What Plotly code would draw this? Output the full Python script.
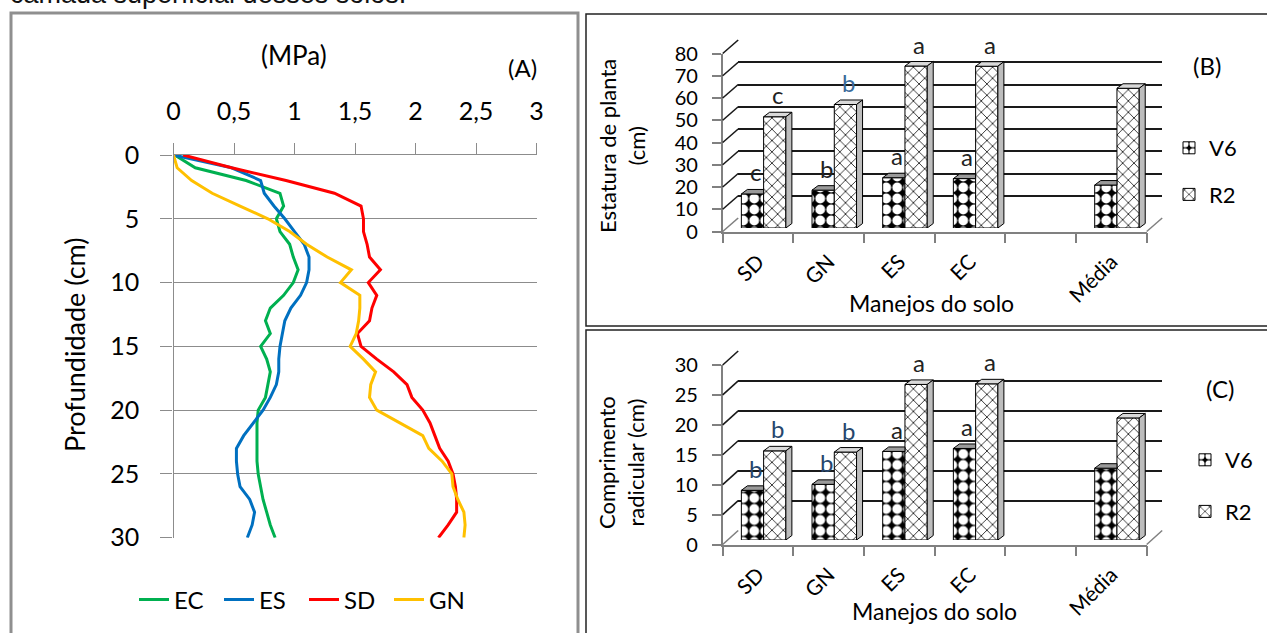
import plotly.graph_objects as go

W, H = 1267, 633

# ---------------- data ----------------
depth_cm = [0, 1, 2, 3, 4, 5, 6, 7, 8, 9, 10, 11, 12, 13, 14, 15,
            16, 17, 18, 19, 20, 21, 22, 23, 24, 25, 26, 27, 28, 29, 30]
resist_ec = [0.01, 0.18, 0.60, 0.88, 0.91, 0.85, 0.88, 0.96, 0.99, 1.03, 0.99,
             0.91, 0.80, 0.76, 0.80, 0.72, 0.77, 0.80, 0.78, 0.76, 0.70,
             0.69, 0.69, 0.69, 0.69, 0.70, 0.72, 0.74, 0.77, 0.80, 0.84]
resist_es = [0.00, 0.48, 0.72, 0.75, 0.83, 0.92, 1.00, 1.08, 1.12, 1.12, 1.10,
             1.05, 0.97, 0.92, 0.90, 0.88, 0.87, 0.87, 0.85, 0.80, 0.74,
             0.66, 0.58, 0.52, 0.52, 0.53, 0.55, 0.63, 0.67, 0.65, 0.61]
resist_sd = [0.08, 0.48, 0.93, 1.33, 1.55, 1.57, 1.57, 1.60, 1.62, 1.71, 1.61,
             1.68, 1.64, 1.62, 1.52, 1.55, 1.68, 1.82, 1.93, 1.97, 2.06,
             2.12, 2.16, 2.20, 2.27, 2.31, 2.33, 2.34, 2.34, 2.27, 2.19]
resist_gn = [0.00, 0.03, 0.15, 0.32, 0.55, 0.78, 0.96, 1.10, 1.27, 1.47, 1.38,
             1.54, 1.54, 1.53, 1.51, 1.46, 1.57, 1.67, 1.63, 1.62, 1.68,
             1.87, 2.06, 2.11, 2.22, 2.30, 2.31, 2.35, 2.40, 2.41, 2.40]
mpa_ticks = [0, 0.5, 1, 1.5, 2, 2.5, 3]
mpa_ticktext = ["0", "0,5", "1", "1,5", "2", "2,5", "3"]

categories = ["SD", "GN", "ES", "EC", "Média"]
height_v6 = [15.3, 17.0, 22.6, 22.2, 19.3]
height_r2 = [50.0, 55.5, 72.8, 72.7, 62.8]
height_let_v6 = ["c", "b", "a", "a", ""]
height_let_r2 = ["c", "b", "a", "a", ""]
root_v6 = [8.3, 9.3, 14.8, 15.3, 12.0]
root_r2 = [14.9, 14.7, 26.0, 26.1, 20.4]
root_let_v6 = ["b", "b", "a", "a", ""]
root_let_r2 = ["b", "b", "a", "a", ""]

# ---------------- helpers ----------------
FONT = "Lato, 'Noto Sans', sans-serif"


def px(x):
    return x / W


def py(y):
    return 1 - y / H


fig = go.Figure()
layout = dict(
    template="none",
    width=W, height=H, autosize=False,
    margin=dict(l=0, r=0, t=0, b=0, pad=0),
    paper_bgcolor="white", plot_bgcolor="rgba(0,0,0,0)",
    font=dict(family=FONT, color="black", size=22),
    barmode="overlay", showlegend=True, hovermode=False,
)
shapes = []
annotations = []


def label(text, x, y, size, angle=0, **kw):
    d = dict(text=text, x=px(x), y=py(y), xref="paper", yref="paper",
             xanchor="center", yanchor="middle", showarrow=False, textangle=angle,
             font=dict(size=size))
    d.update(kw)
    annotations.append(d)


def anchor_trace(xa, ya):
    # invisible trace so that an axis pair without data is still drawn
    fig.add_trace(go.Scatter(x=[None], y=[None], mode="markers", showlegend=False,
                             hoverinfo="skip", xaxis=xa, yaxis=ya))


# ---------------- panel A ----------------
AX0, AX1 = 173.5, 536.5
AY0, AY1 = 155.0, 537.7
GRAY = "#8c8c8c"
series = [("EC", resist_ec, "#00b050"), ("ES", resist_es, "#0070c0"),
          ("SD", resist_sd, "#ff0000"), ("GN", resist_gn, "#ffc000")]
for name, vals, col in series:
    fig.add_trace(go.Scatter(x=vals, y=depth_cm, mode="lines", name=name,
                             line=dict(color=col, width=3),
                             xaxis="x", yaxis="y", legend="legend"))

layout["xaxis"] = dict(domain=[px(AX0), px(AX1)], range=[0, 3], side="top", anchor="y",
                       tickmode="array", tickvals=mpa_ticks, ticktext=mpa_ticktext,
                       ticks="outside", ticklen=11, tickcolor=GRAY, tickwidth=1.3,
                       showline=True, linecolor=GRAY, linewidth=1.3,
                       showgrid=False, zeroline=False, tickfont=dict(size=25),
                       ticklabelstandoff=13, automargin=False)
layout["yaxis"] = dict(domain=[py(AY1), py(AY0)], range=[30, 0], anchor="x",
                       tickmode="linear", tick0=0, dtick=5,
                       ticks="outside", ticklen=12, tickcolor=GRAY, tickwidth=1.3,
                       showline=True, linecolor=GRAY, linewidth=1.3,
                       showgrid=True, gridcolor=GRAY, gridwidth=1.3,
                       zeroline=False, tickfont=dict(size=25), ticklabelstandoff=16,
                       automargin=False)
layout["legend"] = dict(orientation="h", x=px(134), y=py(600), xanchor="left",
                        yanchor="middle", font=dict(size=24),
                        bgcolor="rgba(0,0,0,0)", entrywidth=40, entrywidthmode="pixels")

label("(MPa)", 294, 55, 26)
label("(A)", 522, 67, 24)
label("Profundidade (cm)", 74, 345, 27, angle=-90)
annotations.append(dict(
    text="camada superficial desses solos.", x=px(8), y=py(11), xref="paper",
    yref="paper", xanchor="left", yanchor="bottom", showarrow=False,
    font=dict(size=27, family="'Liberation Sans', sans-serif", color="#111")))

# ---------------- panels B and C ----------------
X0, X1 = 722.7, 1146.7
NSLOT = 6
slots = [0, 1, 2, 3, 5]
BACK_DX = 15.5
PLANE_DX = 4.0
LINE_GRAY = "#808080"


def bar_panel(ids, v6, r2, let6, let2, vmax, dtick, y0, ytop, back_dy, plane_dy,
              legend_name, let_colors):
    nf, nb, npl = ids
    ppu_x = (X1 - X0) / NSLOT
    ppu_y = (y0 - ytop) / vmax
    # back wall (gridlines)
    layout[f"xaxis{nb}"] = dict(
        domain=[px(X0 + BACK_DX), px(X1 + BACK_DX)], range=[0, NSLOT], anchor=f"y{nb}",
        showticklabels=False, ticks="", showline=False, showgrid=False, zeroline=False,
        automargin=False)
    layout[f"yaxis{nb}"] = dict(
        domain=[py(y0 + back_dy), py(ytop + back_dy)], range=[0, vmax], anchor=f"x{nb}",
        tickmode="linear", tick0=0, dtick=dtick, showticklabels=False, ticks="",
        showline=False, showgrid=True, gridcolor="#1a1a1a", gridwidth=1.6, zeroline=False,
        automargin=False)
    anchor_trace(f"x{nb}", f"y{nb}")
    # front axes (labels, ticks, front floor edge, left wall edge)
    layout[f"xaxis{nf}"] = dict(
        domain=[px(X0), px(X1)], range=[0, NSLOT], anchor=f"y{nf}",
        tickmode="array", tickvals=[s + 0.5 for s in slots], ticktext=categories,
        tickangle=-45, ticks="", showline=True, linecolor=LINE_GRAY, linewidth=1.5,
        showgrid=False, zeroline=False, tickfont=dict(size=21), ticklabelstandoff=8,
        automargin=False,
        minor=dict(tickmode="array", tickvals=list(range(NSLOT + 1)), ticks="outside",
                   ticklen=10, tickcolor=LINE_GRAY, tickwidth=1.5, showgrid=False))
    layout[f"yaxis{nf}"] = dict(
        domain=[py(y0), py(ytop)], range=[0, vmax], anchor=f"x{nf}",
        tickmode="linear", tick0=0, dtick=dtick, ticks="outside", ticklen=9,
        tickcolor=LINE_GRAY, tickwidth=1.5, showline=True, linecolor=LINE_GRAY,
        linewidth=1.5, showgrid=False, zeroline=False, tickfont=dict(size=20),
        ticklabelstandoff=10, automargin=False)
    anchor_trace(f"x{nf}", f"y{nf}")
    # bar plane
    layout[f"xaxis{npl}"] = dict(
        domain=[px(X0 + PLANE_DX), px(X1 + PLANE_DX)], range=[0, NSLOT], anchor=f"y{npl}",
        visible=False, automargin=False)
    layout[f"yaxis{npl}"] = dict(
        domain=[py(y0 + plane_dy), py(ytop + plane_dy)], range=[0, vmax], anchor=f"x{npl}",
        visible=False, automargin=False)
    # left wall slanted gridlines + floor right edge
    v = 0
    while v <= vmax + 1e-9:
        yf = y0 - v * ppu_y
        shapes.append(dict(type="line", xref="paper", yref="paper",
                           x0=px(X0), y0=py(yf), x1=px(X0 + BACK_DX), y1=py(yf + back_dy),
                           line=dict(color="#1a1a1a" if v > 0 else LINE_GRAY, width=1.6)))
        v += dtick
    shapes.append(dict(type="line", xref="paper", yref="paper",
                       x0=px(X1), y0=py(y0), x1=px(X1 + BACK_DX), y1=py(y0 + back_dy),
                       line=dict(color=LINE_GRAY, width=1.5)))

    bw = 0.315
    off6, off2 = 0.365, 0.68
    ddx = 6.0 / ppu_x
    ddy = 4.5 / ppu_y
    xs6 = [s + off6 for s in slots]
    xs2 = [s + off2 for s in slots]
    fig.add_trace(go.Bar(
        x=xs6, y=v6, width=bw, name="V6", xaxis=f"x{npl}", yaxis=f"y{npl}",
        legend=legend_name, legendgroup=f"{legend_name}v6",
        marker=dict(color="white", line=dict(color="black", width=1),
                    pattern=dict(shape=".", fgcolor="white", bgcolor="black",
                                 size=11, solidity=0.62, fillmode="replace"))))
    fig.add_trace(go.Bar(
        x=xs2, y=r2, width=bw, name="R2", xaxis=f"x{npl}", yaxis=f"y{npl}",
        legend=legend_name, legendgroup=f"{legend_name}r2",
        marker=dict(color="white", line=dict(color="black", width=1),
                    pattern=dict(shape="x", fgcolor="black", bgcolor="white",
                                 size=8, solidity=0.18, fillmode="replace"))))
    # 3D faces
    tx, ty, sx, sy, t6x, t6y = [], [], [], [], [], []
    for xc, val in zip(xs6, v6):
        a, b = xc - bw / 2, xc + bw / 2
        t6x += [a, b, b, a + ddx, a, None]
        t6y += [val, val, val + ddy, val + ddy, val, None]
    for xc, val in zip(xs2, r2):
        a, b = xc - bw / 2, xc + bw / 2
        tx += [a, b, b + ddx, a + ddx, a, None]
        ty += [val, val, val + ddy, val + ddy, val, None]
        sx += [b, b + ddx, b + ddx, b, b, None]
        sy += [0, ddy, val + ddy, val, 0, None]
    for xx, yy, fc in [(t6x, t6y, "#9a9a9a"), (tx, ty, "#d9d9d9"), (sx, sy, "#bdbdbd")]:
        fig.add_trace(go.Scatter(x=xx, y=yy, mode="lines", fill="toself", fillcolor=fc,
                                 line=dict(color="black", width=1), showlegend=False,
                                 hoverinfo="skip", xaxis=f"x{npl}", yaxis=f"y{npl}"))
    # significance letters
    for xs, vals, lets, key in [(xs6, v6, let6, "v6"), (xs2, r2, let2, "r2")]:
        for i, (xc, val, lt) in enumerate(zip(xs, vals, lets)):
            if not lt:
                continue
            annotations.append(dict(
                text=lt, x=xc + ddx / 2, y=val + ddy, xref=f"x{npl}", yref=f"y{npl}",
                xanchor="center", yanchor="bottom", showarrow=False, yshift=1,
                font=dict(size=24, color=let_colors.get((key, i), "#222222"))))


bar_panel((2, 3, 4), height_v6, height_r2, height_let_v6, height_let_r2,
          80, 10, 231.5, 53.5, -13.5, -3.5, "legend2",
          {("r2", 1): "#3a6a9a"})
bar_panel((5, 6, 7), root_v6, root_r2, root_let_v6, root_let_r2,
          30, 5, 544.5, 365.0, -14.0, -4.5, "legend3",
          {("v6", 0): "#26466d", ("r2", 0): "#26466d", ("v6", 1): "#26466d",
           ("r2", 1): "#26466d"})

layout["legend2"] = dict(x=px(1169), y=py(127), xanchor="left", yanchor="top",
                         font=dict(size=22), tracegroupgap=15, bgcolor="rgba(0,0,0,0)")
layout["legend3"] = dict(x=px(1185), y=py(439), xanchor="left", yanchor="top",
                         font=dict(size=22), tracegroupgap=20, bgcolor="rgba(0,0,0,0)")

label("Estatura de planta<br>(cm)", 622, 146, 22, angle=-90)
label("Manejos do solo", 931, 303, 23)
label("(B)", 1207, 66, 24)
label("Comprimento<br>radicular (cm)", 621, 463, 22, angle=-90)
label("Manejos do solo", 934, 611, 23)
label("(C)", 1220, 388, 24)

# panel frames
shapes += [
    dict(type="rect", xref="paper", yref="paper", x0=px(11), y0=py(13), x1=px(578),
         y1=py(645), line=dict(color="#8f8f8f", width=3)),
    dict(type="rect", xref="paper", yref="paper", x0=px(586), y0=py(14), x1=px(1275),
         y1=py(326), line=dict(color="#222222", width=1.5)),
    dict(type="rect", xref="paper", yref="paper", x0=px(586), y0=py(330), x1=px(1275),
         y1=py(645), line=dict(color="#222222", width=1.5)),
]

layout["shapes"] = shapes
layout["annotations"] = annotations
fig.update_layout(**layout)
fig.write_html("out.html", config={"displayModeBar": False},
               post_script="document.body.style.margin='0';document.body.style.overflow='hidden';")
